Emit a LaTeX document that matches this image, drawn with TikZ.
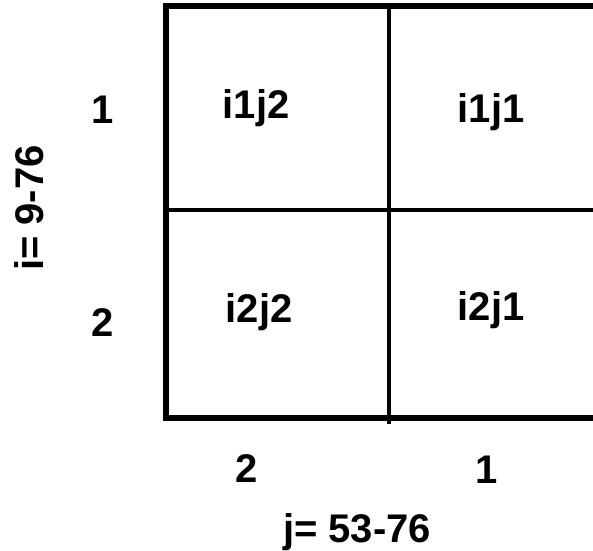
\documentclass[tikz,border=0pt]{standalone}
\usepackage{fontspec}
\setmainfont{Liberation Sans}
\usepackage{tikz}
\usetikzlibrary{positioning}

\begin{document}
\begin{tikzpicture}[x=1pt,y=-1pt,line cap=rect]
            \tikzset{
                cell/.style={
                    font=\fontsize{40}{40}\selectfont\bfseries,
                    inner sep=0pt,
                    anchor=base
                },
                outer/.style={line width=6pt},
                inner/.style={line width=4.5pt}
            }

            \useasboundingbox (0,0) rectangle (593,550);

            % Grid corners
            \coordinate (TL) at (165.5,6);
            \coordinate (TR) at (600,6);
            \coordinate (BL) at (165.5,418);
            \coordinate (BR) at (600,418);
            \coordinate (MT) at (389,6);
            \coordinate (MB) at (389,422);
            \coordinate (ML) at (165.5,210);
            \coordinate (MR) at (600,210);

            \draw[outer] (TR) -- (TL) -- (BL) -- (BR);
            \draw[inner] (MT) -- (MB);
            \draw[inner] (ML) -- (MR);

            % Cells
            \node[cell] (i1j2) at (256,118) {i1j2};
            \node[cell] (i1j1) at (491,122) {i1j1};
            \node[cell] (i2j2) at (259,322) {i2j2};
            \node[cell] (i2j1) at (491,320) {i2j1};

            % Row labels
            \node[cell] (row1) at (103,123) {1};
            \node[cell] (row2) at (103,336) {2};
            \node[cell,rotate=90] (ilab) at (43,208) {i= 9-76};

            % Column labels
            \node[cell] (col2) at (247,482) {2};
            \node[cell] (col1) at (487,483) {1};
            \node[cell] (jlab) at (357,542) {j= 53-76};
\end{tikzpicture}
\end{document}
